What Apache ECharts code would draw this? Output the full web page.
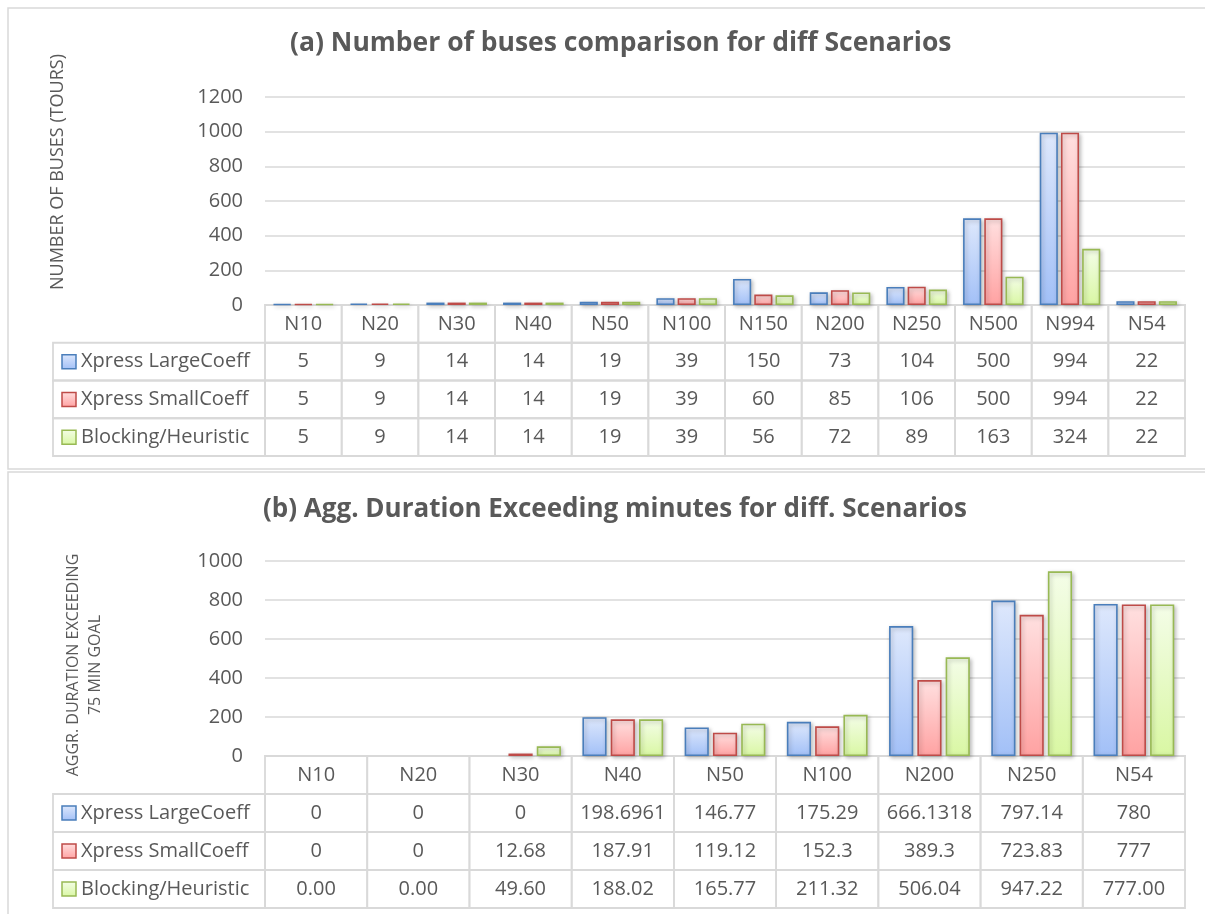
<!DOCTYPE html>
<html>
<head>
<meta charset="utf-8">
<script src="https://cdn.jsdelivr.net/npm/echarts@6/dist/echarts.min.js"></script>
</head>
<body style="margin:0; background:#fff">
<div id="container" style="width:1205px;height:914px"></div>
<script>
var seriesNames = ['Xpress LargeCoeff', 'Xpress SmallCoeff', 'Blocking/Heuristic'];

// (a) number of buses
var busCats = ['N10', 'N20', 'N30', 'N40', 'N50', 'N100', 'N150', 'N200', 'N250', 'N500', 'N994', 'N54'];
var busLarge = [5, 9, 14, 14, 19, 39, 150, 73, 104, 500, 994, 22];
var busSmall = [5, 9, 14, 14, 19, 39, 60, 85, 106, 500, 994, 22];
var busBlock = [5, 9, 14, 14, 19, 39, 56, 72, 89, 163, 324, 22];

// (b) aggregated duration exceeding 75 min
var durCats = ['N10', 'N20', 'N30', 'N40', 'N50', 'N100', 'N200', 'N250', 'N54'];
var durLarge = [0, 0, 0, 198.6961, 146.77, 175.29, 666.1318, 797.14, 780];
var durSmall = [0, 0, 12.68, 187.91, 119.12, 152.3, 389.3, 723.83, 777];
var durBlock = [0, 0, 49.60, 188.02, 165.77, 211.32, 506.04, 947.22, 777.00];

var font = 'Open Sans';
var txt = '#595959';
var lineCol = '#d9d9d9';
var labelColW = 212;

var palette = [
  { border: '#4A7EBB', top: '#DEE8FC', bottom: '#A2C0F7' },
  { border: '#BE4B48', top: '#FFE0E0', bottom: '#FFA2A2' },
  { border: '#98B954', top: '#F4FDE8', bottom: '#D9F7A3' }
];

function grad(p) {
  return new echarts.graphic.LinearGradient(0, 0, 0, 1, [
    { offset: 0, color: p.top }, { offset: 1, color: p.bottom }
  ]);
}

function barSeries(vals, i, axis) {
  var p = palette[i];
  return {
    type: 'bar', name: seriesNames[i], xAxisIndex: axis, yAxisIndex: axis,
    barGap: '17%', barCategoryGap: '21%', silent: true,
    itemStyle: {
      color: grad(p), borderColor: p.border, borderWidth: 1.6,
      shadowBlur: 4, shadowColor: 'rgba(0,0,0,0.25)', shadowOffsetX: 1.5, shadowOffsetY: 1.5
    },
    data: vals.map(function (v) {
      return v === 0 ? { value: v, itemStyle: { borderWidth: 0, shadowBlur: 0 } } : v;
    })
  };
}

function tableSeries(cats, rows, fmt, axis) {
  var cells = [];
  cats.forEach(function (c, i) { cells.push({ value: [i, 0], text: c, kind: 'head' }); });
  rows.forEach(function (vals, r) {
    cells.push({ value: [0, r + 1], text: seriesNames[r], kind: 'label', row: r });
    vals.forEach(function (v, i) { cells.push({ value: [i, r + 1], text: fmt(v, r), kind: 'cell' }); });
  });
  return {
    type: 'custom', xAxisIndex: axis, yAxisIndex: axis, silent: true,
    data: cells.map(function (c) { return c.value; }),
    renderItem: function (params, api) {
      var cell = cells[params.dataIndex];
      var pt = api.coord([api.value(0), api.value(1)]);
      var sz = api.size([1, 1]);
      var h = sz[1], y = pt[1] - h / 2;
      var stroke = { fill: 'none', stroke: lineCol, lineWidth: 1.8 };
      var font20 = { fontSize: 20, fontFamily: font, fill: txt };
      if (cell.kind === 'label') {
        var left = params.coordSys.x - labelColW;
        var p = palette[cell.row];
        return {
          type: 'group', children: [
            { type: 'rect', shape: { x: left, y: y, width: labelColW, height: h }, style: stroke },
            { type: 'rect', shape: { x: left + 9, y: pt[1] - 7, width: 14, height: 14 },
              style: { fill: grad(p), stroke: p.border, lineWidth: 1.5 } },
            { type: 'text', x: left + 28, y: pt[1],
              style: Object.assign({ text: cell.text, align: 'left', verticalAlign: 'middle' }, font20) }
          ]
        };
      }
      return {
        type: 'group', children: [
          { type: 'rect', shape: { x: pt[0] - sz[0] / 2, y: y, width: sz[0], height: h }, style: stroke },
          { type: 'text', x: pt[0], y: pt[1],
            style: Object.assign({ text: cell.text, align: 'center', verticalAlign: 'middle' }, font20) }
        ]
      };
    }
  };
}

function valueAxis(axis, max) {
  return {
    type: 'value', gridIndex: axis, min: 0, max: max, interval: 200,
    axisLine: { show: false }, axisTick: { show: false },
    axisLabel: { color: txt, fontSize: 20, fontFamily: font, margin: 22,
      formatter: function (v) { return String(v); } },
    splitLine: { lineStyle: { color: lineCol, width: 1.6 } }
  };
}

function catAxis(axis, cats, barAxis) {
  return {
    type: 'category', gridIndex: axis, data: cats,
    axisLine: { show: barAxis, lineStyle: { color: lineCol, width: 1.6 } },
    axisTick: { show: false }, axisLabel: { show: false }, splitLine: { show: false }
  };
}

function rowAxis(axis) {
  return {
    type: 'category', gridIndex: axis, inverse: true, data: [''].concat(seriesNames),
    show: false
  };
}

var chart = echarts.init(document.getElementById('container'));

chart.setOption({
  animation: false,
  textStyle: { fontFamily: font },
  title: [
    { text: '(a) Number of buses comparison for diff Scenarios', left: 290, top: 30, padding: 0,
      textStyle: { color: txt, fontSize: 26.5, fontWeight: 'bold', fontFamily: font } },
    { text: '(b) Agg. Duration Exceeding minutes for diff. Scenarios', left: 263, top: 497, padding: 0,
      textStyle: { color: txt, fontSize: 26, fontWeight: 'bold', fontFamily: font } }
  ],
  graphic: [
    { type: 'rect', shape: { x: 8, y: 8, width: 1210, height: 461 }, style: { fill: 'none', stroke: lineCol, lineWidth: 1.5 }, silent: true },
    { type: 'rect', shape: { x: 8, y: 472, width: 1210, height: 460 }, style: { fill: 'none', stroke: lineCol, lineWidth: 1.5 }, silent: true },
    { type: 'text', x: 58, y: 172, rotation: Math.PI / 2,
      style: { text: 'NUMBER OF BUSES (TOURS)', align: 'center', verticalAlign: 'middle', fill: txt, fontSize: 18, fontFamily: font } },
    { type: 'text', x: 84, y: 665, rotation: Math.PI / 2,
      style: { text: 'AGGR. DURATION EXCEEDING\n75 MIN GOAL', align: 'center', verticalAlign: 'middle', fill: txt, fontSize: 16, fontFamily: font, lineHeight: 22 } }
  ],
  grid: [
    { left: 265, top: 97, width: 920, height: 208 },
    { left: 265, top: 305, width: 920, height: 151 },
    { left: 265, top: 561, width: 920, height: 195 },
    { left: 265, top: 756, width: 920, height: 152 }
  ],
  xAxis: [
    catAxis(0, busCats, true), catAxis(1, busCats, false),
    catAxis(2, durCats, true), catAxis(3, durCats, false)
  ],
  yAxis: [
    valueAxis(0, 1200), rowAxis(1),
    valueAxis(2, 1000), rowAxis(3)
  ],
  series: [
    barSeries(busLarge, 0, 0), barSeries(busSmall, 1, 0), barSeries(busBlock, 2, 0),
    tableSeries(busCats, [busLarge, busSmall, busBlock], function (v) { return String(v); }, 1),
    barSeries(durLarge, 0, 2), barSeries(durSmall, 1, 2), barSeries(durBlock, 2, 2),
    tableSeries(durCats, [durLarge, durSmall, durBlock], function (v, r) {
      return r === 2 ? v.toFixed(2) : String(v);
    }, 3)
  ]
});
</script>
</body>
</html>
